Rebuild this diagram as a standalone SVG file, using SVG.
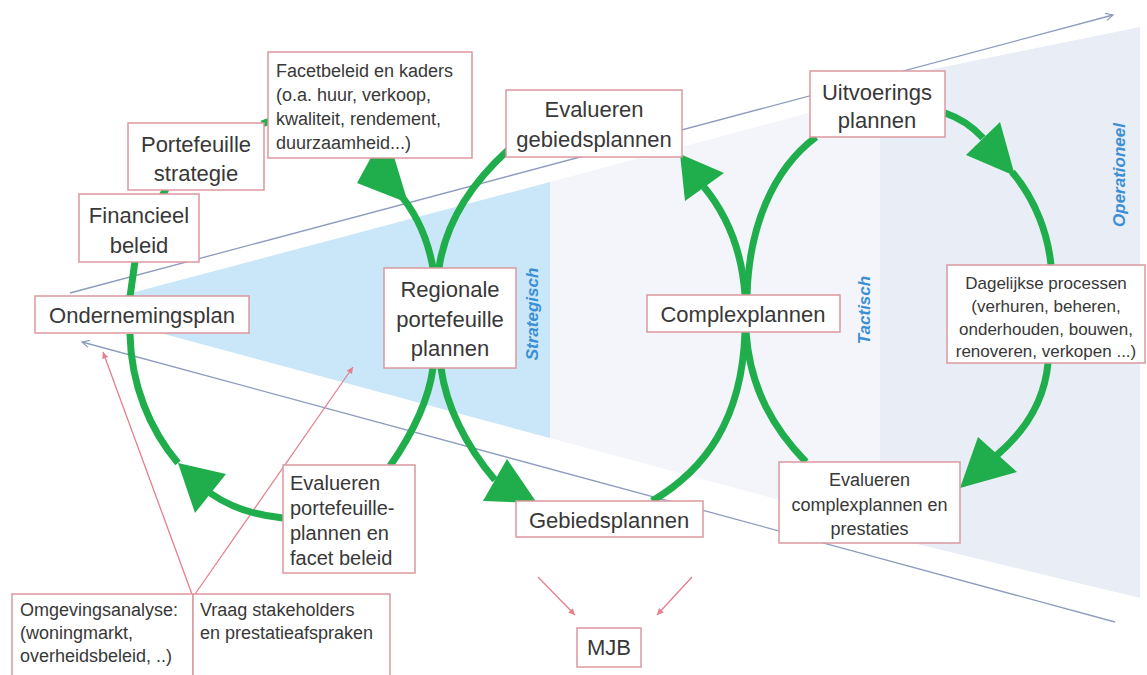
<svg xmlns="http://www.w3.org/2000/svg" width="1147" height="675" viewBox="0 0 1147 675">
<defs>
<style>
.box{fill:#fff;stroke:#dc98a0;stroke-width:1.5}
.t{font-family:"Liberation Sans",Arial,sans-serif;fill:#383838}
.big{font-size:22px}
.mid{font-size:18px}
.mid2{font-size:20px}
.sm{font-size:17px}
.lvl{font-family:"Liberation Sans",Arial,sans-serif;font-size:17px;font-weight:bold;font-style:italic;fill:#3b8fd4}
.arc{fill:none;stroke:#1fae4b;stroke-width:7}
.head{fill:#1fae4b}
.axis{fill:none;stroke:#8d9bbd;stroke-width:1.3}
.red{fill:none;stroke:#e4808c;stroke-width:1.3}
</style>
<marker id="ga" viewBox="0 0 10 10" refX="9" refY="5" markerWidth="9" markerHeight="9" orient="auto" markerUnits="userSpaceOnUse"><path d="M1,1 L9,5 L1,9" fill="none" stroke="#8d9bbd" stroke-width="1.3"/></marker>
<marker id="ra" viewBox="0 0 10 10" refX="9" refY="5" markerWidth="8" markerHeight="8" orient="auto" markerUnits="userSpaceOnUse"><path d="M1,1 L9,5 L1,9 Z" fill="#e4808c"/></marker>
</defs>
<rect x="0" y="0" width="1147" height="675" fill="#fff"/>
<g id="background">
<polygon points="550,182 880,94 880,527 550,438" fill="#f3f5fa"/>
<polygon points="880,80 1140,27 1140,598 880,535" fill="#e8edf6"/>
<polygon points="71,309 550,182 550,438" fill="#c9e7f8"/>
<text class="lvl" text-anchor="middle" transform="translate(538,314) rotate(-90)">Strategisch</text>
<text class="lvl" text-anchor="middle" transform="translate(870,310) rotate(-90)">Tactisch</text>
<text class="lvl" text-anchor="middle" transform="translate(1125,175) rotate(-90)">Operationeel</text>
</g>
<g id="connectors">
<path class="axis" d="M70,293 L1113,15" marker-end="url(#ga)"/>
<path class="axis" d="M1115,622 L82,342" marker-end="url(#ga)"/>
<path class="red" d="M193,597 L103,352" marker-end="url(#ra)"/>
<path class="red" d="M193,597 L353,367" marker-end="url(#ra)"/>
<path class="red" d="M538,577 L575,615" marker-end="url(#ra)"/>
<path class="red" d="M692,577 L657,615" marker-end="url(#ra)"/>
<circle cx="193" cy="597" r="3" fill="#e86a7a"/>
<path class="arc" d="M130,334 C131,385 150,430 178,463"/>
<polygon class="head" points="178,463 226,474 195,513"/>
<path class="arc" d="M283,518 Q240,514 210,493"/>
<path class="arc" d="M390,466 C408,440 428,405 433,368"/>
<path class="arc" d="M433,268 C428,240 418,215 398,192"/>
<polygon class="head" points="357,183 408,203 386,130"/>
<path class="arc" d="M262,124 L270,121"/>
<path class="arc" d="M166,189 L162,196"/>
<path class="arc" d="M135,261 L130,297"/>
<path class="arc" d="M441,368 C446,405 465,445 495,480"/>
<polygon class="head" points="483,501 507,459 537,503"/>
<path class="arc" d="M652,501 C705,470 742,420 745,332"/>
<path class="arc" d="M745,295 C742,252 727,215 704,187"/>
<polygon class="head" points="680,154 685,201 724,173"/>
<path class="arc" d="M508,150 C475,180 446,220 439,268"/>
<path class="arc" d="M747,295 C749,228 772,170 816,137"/>
<path class="arc" d="M945,113 C960,118 972,126 983,138"/>
<polygon class="head" points="966,155 1000,122 1015,176"/>
<path class="arc" d="M1012,172 C1036,200 1048,235 1051,265"/>
<path class="arc" d="M1048,363 C1045,395 1030,427 997,455"/>
<polygon class="head" points="978,437 1017,472 960,488"/>
<path class="arc" d="M806,462 C775,430 750,390 746,332"/>
</g>
<g id="ondernemingsplan"><rect class="box" x="35" y="296" width="214" height="37"/><text class="t big" x="142" y="323" text-anchor="middle">Ondernemingsplan</text></g>
<g id="financieel"><rect class="box" x="79" y="194" width="120" height="68"/><text class="t big" text-anchor="middle"><tspan x="139" y="223">Financieel</tspan><tspan x="139" y="253">beleid</tspan></text></g>
<g id="portefeuille"><rect class="box" x="128" y="123" width="136" height="67"/><text class="t big" text-anchor="middle"><tspan x="196" y="152">Portefeuille</tspan><tspan x="196" y="181">strategie</tspan></text></g>
<g id="facet"><rect class="box" x="268" y="52" width="204" height="106"/><text class="t mid"><tspan x="276" y="77">Facetbeleid en kaders</tspan><tspan x="276" y="101">(o.a. huur, verkoop,</tspan><tspan x="276" y="125">kwaliteit, rendement,</tspan><tspan x="276" y="149">duurzaamheid...)</tspan></text></g>
<g id="evalgebied"><rect class="box" x="506" y="90" width="176" height="67"/><text class="t big" text-anchor="middle"><tspan x="594" y="117">Evalueren</tspan><tspan x="594" y="147">gebiedsplannen</tspan></text></g>
<g id="regionale"><rect class="box" x="384" y="268" width="132" height="100"/><text class="t big" text-anchor="middle"><tspan x="450" y="297">Regionale</tspan><tspan x="450" y="327">portefeuille</tspan><tspan x="450" y="356">plannen</tspan></text></g>
<g id="complex"><rect class="box" x="647" y="295" width="193" height="37"/><text class="t big" x="743" y="322" text-anchor="middle">Complexplannen</text></g>
<g id="uitvoerings"><rect class="box" x="810" y="71" width="135" height="66"/><text class="t big" text-anchor="middle"><tspan x="877" y="100">Uitvoerings</tspan><tspan x="877" y="128">plannen</tspan></text></g>
<g id="dagelijkse"><rect class="box" x="947" y="265" width="198" height="98"/><text class="t sm" text-anchor="middle"><tspan x="1046" y="289">Dagelijkse processen</tspan><tspan x="1046" y="312">(verhuren, beheren,</tspan><tspan x="1046" y="335">onderhouden, bouwen,</tspan><tspan x="1046" y="357">renoveren, verkopen ...)</tspan></text></g>
<g id="evalcomplex"><rect class="box" x="779" y="462" width="181" height="81"/><text class="t mid" text-anchor="middle"><tspan x="869.5" y="486">Evalueren</tspan><tspan x="869.5" y="511">complexplannen en</tspan><tspan x="869.5" y="535">prestaties</tspan></text></g>
<g id="gebied"><rect class="box" x="516" y="501" width="187" height="36"/><text class="t big" x="609" y="528" text-anchor="middle">Gebiedsplannen</text></g>
<g id="mjb"><rect class="box" x="577" y="628" width="64" height="39"/><text class="t big" x="609" y="655" text-anchor="middle">MJB</text></g>
<g id="evalportefeuille"><rect class="box" x="283" y="465" width="132" height="108"/><text class="t mid2"><tspan x="290" y="490">Evalueren</tspan><tspan x="290" y="515">portefeuille-</tspan><tspan x="290" y="540">plannen en</tspan><tspan x="290" y="565">facet beleid</tspan></text></g>
<g id="omgeving"><rect class="box" x="12" y="594" width="181" height="90"/><text class="t mid"><tspan x="20" y="616">Omgevingsanalyse:</tspan><tspan x="20" y="639">(woningmarkt,</tspan><tspan x="20" y="662">overheidsbeleid, ..)</tspan></text></g>
<g id="vraag"><rect class="box" x="193" y="594" width="197" height="90"/><text class="t mid"><tspan x="200" y="616">Vraag stakeholders</tspan><tspan x="200" y="639">en prestatieafspraken</tspan></text></g>
</svg>
